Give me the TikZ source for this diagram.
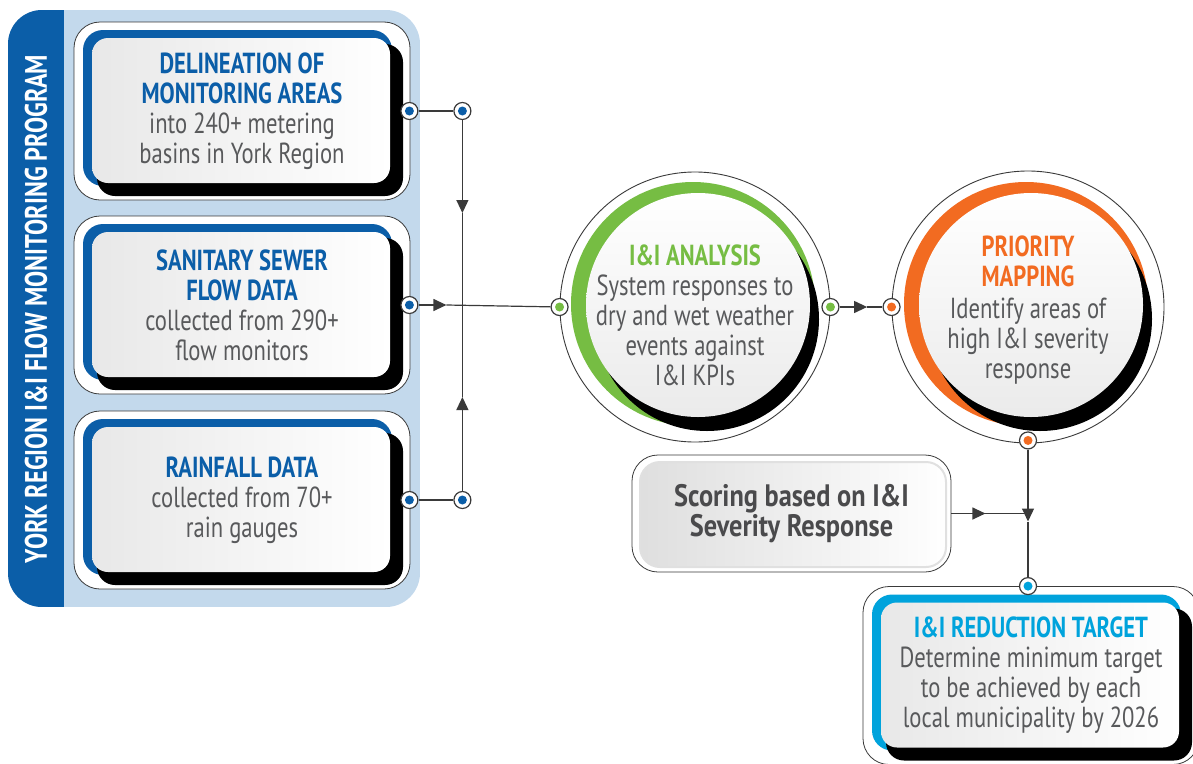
\documentclass[tikz,border=0pt]{standalone}
\usepackage{fontspec}
\setmainfont{PT Sans}[FakeStretch=0.78]
\newfontfamily\scorefont{PT Sans}[FakeStretch=0.85]
\usepackage{tikz}
\usetikzlibrary{arrows.meta, positioning, calc}

\definecolor{yrblue}{HTML}{0B5EA8}
\definecolor{panelblue}{HTML}{C3D9EC}
\definecolor{iigreen}{HTML}{76BD43}
\definecolor{iiorange}{HTML}{F26B21}
\definecolor{iicyan}{HTML}{00A3DC}
\definecolor{textgray}{HTML}{58595B}
\definecolor{darkgray}{HTML}{4A4A4C}
\definecolor{linegray}{HTML}{3A3A3A}

\newcommand{\bigfont}{\fontsize{29}{30}\selectfont}
\newcommand{\ttl}[2]{\textcolor{#1}{\bfseries #2}}

\tikzset{
    card/.style={rectangle, draw=linegray, fill=white, line width=0.8pt, rounded corners=26pt,
        minimum width=336pt, minimum height=178pt, inner sep=0pt, align=center, text=textgray,
        path picture={
            \fill[#1, rounded corners=20pt] ($(path picture bounding box.north west)+(9,8)$) rectangle ($(path picture bounding box.south east)+(-18,-14)$);
            \fill[black, rounded corners=18pt] ($(path picture bounding box.north west)+(23,22)$) rectangle ($(path picture bounding box.south east)+(-7,-4)$);
            \shade[left color=black!9, right color=white, rounded corners=16pt] ($(path picture bounding box.north west)+(18,16)$) rectangle ($(path picture bounding box.south east)+(-20,-17)$);
        }},
    ring/.style={circle, draw=linegray, fill=white, line width=0.9pt, minimum size=270pt, inner sep=0pt,
        path picture={
            \fill[#1] ($(path picture bounding box.center)+(-2,-3)$) circle (122pt);
            \fill[black] ($(path picture bounding box.center)+(12,12)$) circle (112pt);
            \shade[top color=white, bottom color=black!8] ($(path picture bounding box.center)+(3,-2)$) circle (112pt);
        }},
    ringtext/.style={align=center, text=textgray, inner sep=0pt},
    scorebox/.style={rectangle, draw=linegray, fill=white, line width=0.8pt, rounded corners=26pt,
        minimum width=319pt, minimum height=117pt, inner sep=0pt, align=center, text=darkgray,
        path picture={
            \shade[left color=black!13, right color=white, draw=black!12, line width=2pt, rounded corners=20pt] ($(path picture bounding box.north west)+(8,7)$) rectangle ($(path picture bounding box.south east)+(-5,-5)$);
        }},
    port/.style={circle, draw=linegray, fill=white, line width=1.2pt, minimum size=17pt, inner sep=0pt,
        path picture={\fill[#1] (path picture bounding box.center) circle (4.5pt);}},
    link/.style={draw=linegray, line width=1.2pt},
    flowarrow/.style={link, -{Triangle[length=13pt, width=12pt]}},
}

\begin{document}
\begin{tikzpicture}[x=1pt, y=-1pt, font=\bigfont]
    \useasboundingbox (0,0) rectangle (1193,763);

    % program panel
    \begin{scope}
        \clip[rounded corners=34pt] (8,10) rectangle (420,607);
        \fill[panelblue] (8,10) rectangle (420,607);
        \fill[yrblue] (8,10) rectangle (64,607);
    \end{scope}
    \node[rotate=90, text=white, font=\fontsize{31}{31}\selectfont\bfseries] (program) at (36,309) {YORK REGION I\&I FLOW MONITORING PROGRAM};

    % input cards
    \node[card=yrblue] (delin) at (242,111) {\ttl{yrblue}{DELINEATION OF}\\ \ttl{yrblue}{MONITORING AREAS}\\ into 240+ metering\\ basins in York Region};
    \node[card=yrblue] (flow) at (242,305) {\ttl{yrblue}{SANITARY SEWER}\\ \ttl{yrblue}{FLOW DATA}\\ collected from 290+\\ flow monitors};
    \node[card=yrblue] (rain) at (242,500) {\ttl{yrblue}{RAINFALL DATA}\\ collected from 70+\\ rain gauges};

    % analysis circles
    \node[ring=iigreen] (analysis) at (695,307) {};
    \node[ringtext, yshift=-8pt] (analysistext) at (analysis) {\ttl{iigreen}{I\&I ANALYSIS}\\ System responses to\\ dry and wet weather\\ events against\\ I\&I KPIs};
    \node[ring=iiorange, minimum size=272pt] (priority) at (1028,307) {};
    \node[ringtext, yshift=-3pt] (prioritytext) at (priority) {\ttl{iiorange}{PRIORITY}\\ \ttl{iiorange}{MAPPING}\\[2pt] Identify areas of\\ high I\&I severity\\ response};

    % scoring and target
    \node[scorebox, font=\scorefont\fontsize{31}{30}\selectfont\bfseries] (score) at (791.5,513.5) {Scoring based on I\&I\\ Severity Response};
    \node[card=iicyan] (target) at (1031,675.5) {\ttl{iicyan}{I\&I REDUCTION TARGET}\\ Determine minimum target\\ to be achieved by each\\ local municipality by 2026};

    % ports
    \node[port=yrblue] (pd) at ($(delin.east)+(-1,0)$) {};
    \node[port=yrblue] (pf) at ($(flow.east)+(-1,0)$) {};
    \node[port=yrblue] (pr) at ($(rain.east)+(-1,0)$) {};
    \node[port=yrblue] (jd) at ($(pd)+(53,0)$) {};
    \node[port=yrblue] (jr) at ($(pr)+(53,0)$) {};
    \node[port=iigreen] (ga) at (analysis.west) {};
    \node[port=iigreen] (gb) at (analysis.east) {};
    \node[port=iiorange] (oa) at (priority.west) {};
    \node[port=iiorange] (ob) at ($(priority.south)+(0,-3)$) {};
    \node[port=iicyan] (tp) at (target.north -| ob) {};

    \coordinate (hub) at (jd |- pf);
    \coordinate (tipd) at ($(jd)+(0,102)$);
    \coordinate (tipr) at ($(jr)+(0,-103)$);
    \coordinate (tipf) at ($(pf)+(37,0)$);
    \coordinate (tipm) at ($(gb)!0.6!(oa)$);
    \coordinate (merge) at (ob |- score.east);
    \coordinate (tips) at ($(score.east)+(34,0)$);
    \coordinate (tipv) at ($(merge)+(0,8)$);

    % connectors
    \draw[link] (pd) -- (jd);
    \draw[link] (pr) -- (jr);
    \draw[flowarrow] (jd) -- (tipd);
    \draw[link] (tipd) -- (hub);
    \draw[flowarrow] (jr) -- (tipr);
    \draw[link] (tipr) -- (hub);
    \draw[flowarrow] (pf) -- (tipf);
    \draw[link] (tipf) -- (ga);
    \draw[flowarrow] (gb) -- (tipm);
    \draw[link] (tipm) -- (oa);
    \draw[flowarrow] (score.east) -- (tips);
    \draw[link] (tips) -- (merge);
    \draw[flowarrow] (ob) -- (tipv);
    \draw[link] (tipv) -- (tp);
\end{tikzpicture}
\end{document}
